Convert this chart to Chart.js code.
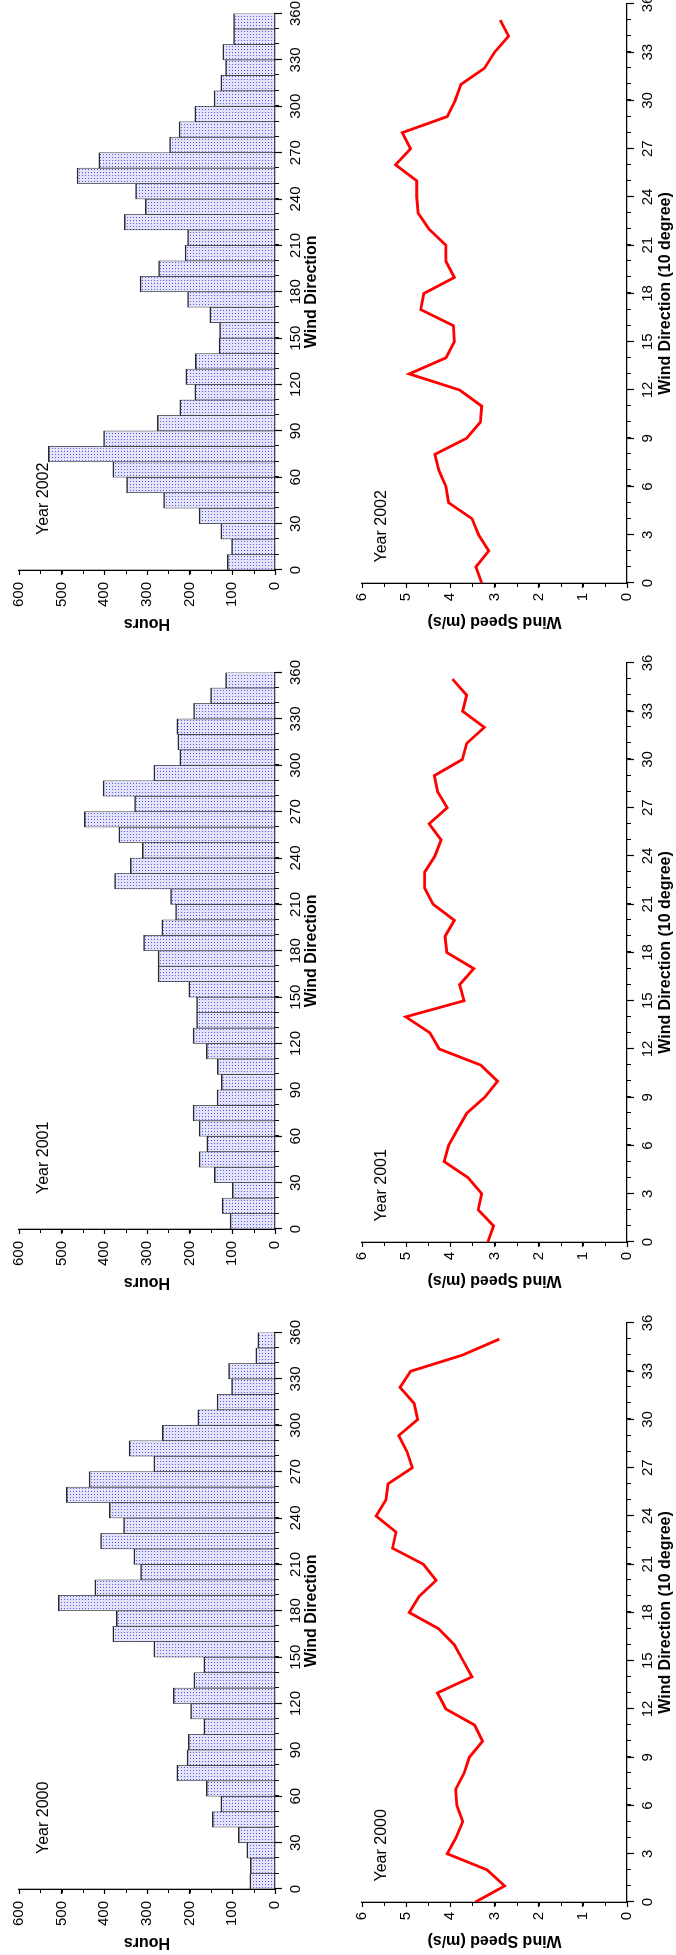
<!DOCTYPE html>
<html>
<head>
<meta charset="utf-8">
<script src="https://cdn.jsdelivr.net/npm/chart.js@4.4.1/dist/chart.umd.min.js"></script>
<style>
  html, body { margin: 0; padding: 0; background: #fff; overflow: hidden; }
  /* the figure is laid out landscape, then turned a quarter turn to the left */
  #fig { position: absolute; left: 0; top: 0; width: 1955px; height: 676px; overflow: hidden;
         background: #fff; transform-origin: 0 0; transform: translate(0, 1955px) rotate(-90deg); }
  #fig canvas { position: absolute; }
</style>
</head>
<body>
<div id="fig">
  <canvas id="h2000" width="640" height="330" style="left:0px;top:0px"></canvas>
  <canvas id="h2001" width="640" height="330" style="left:660px;top:0px"></canvas>
  <canvas id="h2002" width="640" height="330" style="left:1319px;top:0px"></canvas>
  <canvas id="s2000" width="650" height="336" style="left:0px;top:340px"></canvas>
  <canvas id="s2001" width="650" height="336" style="left:660px;top:340px"></canvas>
  <canvas id="s2002" width="650" height="336" style="left:1319px;top:340px"></canvas>
</div>
<script>
const years = ['2000', '2001', '2002'];

// wind direction bins (centre of each 10 degree sector)
const dirBins = [5, 15, 25, 35, 45, 55, 65, 75, 85, 95, 105, 115, 125, 135, 145, 155, 165, 175,
                 185, 195, 205, 215, 225, 235, 245, 255, 265, 275, 285, 295, 305, 315, 325, 335, 345, 355];

const hours2000 = [59, 58, 66, 86, 147, 127, 161, 230, 206, 203, 167, 198, 238, 190, 167, 284, 380, 372,
                   508, 422, 315, 331, 409, 355, 388, 489, 436, 284, 342, 264, 181, 136, 102, 109, 45, 40];
const hours2001 = [105, 124, 100, 142, 178, 160, 178, 192, 136, 126, 135, 161, 192, 184, 184, 202, 274, 274,
                   308, 265, 233, 245, 376, 339, 311, 366, 447, 329, 403, 284, 223, 228, 230, 191, 151, 116];
const hours2002 = [112, 102, 127, 178, 261, 348, 380, 531, 402, 276, 223, 188, 209, 187, 131, 130, 153, 205,
                   316, 273, 211, 205, 353, 304, 327, 464, 413, 247, 225, 188, 143, 127, 116, 122, 97, 97];

// wind direction in units of 10 degree
const sectors = [0, 1, 2, 3, 4, 5, 6, 7, 8, 9, 10, 11, 12, 13, 14, 15, 16, 17,
                 18, 19, 20, 21, 22, 23, 24, 25, 26, 27, 28, 29, 30, 31, 32, 33, 34, 35];

const speed2000 = [3.43, 2.77, 3.17, 4.07, 3.87, 3.72, 3.85, 3.88, 3.69, 3.57, 3.27, 3.45, 4.10, 4.29, 3.51, 3.71, 3.91, 4.27,
                   4.93, 4.71, 4.32, 4.61, 5.31, 5.23, 5.68, 5.46, 5.41, 4.86, 4.98, 5.17, 4.74, 4.82, 5.14, 4.90, 3.73, 2.89];
const speed2001 = [3.15, 3.02, 3.37, 3.29, 3.60, 4.14, 4.04, 3.84, 3.63, 3.22, 2.93, 3.31, 4.25, 4.46, 5.01, 3.69, 3.79, 3.47,
                   4.08, 4.12, 3.91, 4.39, 4.58, 4.58, 4.35, 4.21, 4.48, 4.07, 4.29, 4.36, 3.73, 3.63, 3.23, 3.72, 3.63, 3.95];
const speed2002 = [3.29, 3.42, 3.13, 3.36, 3.51, 4.04, 4.10, 4.26, 4.35, 3.63, 3.32, 3.29, 3.79, 4.93, 4.10, 3.91, 3.93, 4.67,
                   4.60, 3.91, 4.10, 4.10, 4.48, 4.73, 4.76, 4.76, 5.24, 4.90, 5.09, 4.07, 3.89, 3.76, 3.23, 3.00, 2.68, 2.87];

const hourTicks = [0, 100, 200, 300, 400, 500, 600];
const dirTicks = [0, 30, 60, 90, 120, 150, 180, 210, 240, 270, 300, 330, 360];
const speedTicks = [0, 1, 2, 3, 4, 5, 6];
const sectorTicks = [0, 3, 6, 9, 12, 15, 18, 21, 24, 27, 30, 33, 36];

const hoursByYear = [hours2000, hours2001, hours2002];
const speedByYear = [speed2000, speed2001, speed2002];

const FONT = '"Liberation Sans", Arial, Helvetica, sans-serif';
Chart.defaults.font.family = FONT;
Chart.defaults.font.size = 15;
Chart.defaults.color = '#000';

// dotted blue fill like the original hatch
function dotPattern() {
  const c = document.createElement('canvas');
  c.width = 3; c.height = 3;
  const g = c.getContext('2d');
  g.fillStyle = '#e3e3f9';
  g.fillRect(0, 0, 3, 3);
  g.fillStyle = '#5a5ae4';
  g.fillRect(1, 1, 1, 1);
  return g.createPattern(c, 'repeat');
}
const fill = dotPattern();

// short unlabelled ticks between the labelled ones
const minorTicks = {
  id: 'minorTicks',
  afterDraw(chart, args, o) {
    const {ctx} = chart;
    const xs = chart.scales.x, ys = chart.scales.y;
    ctx.save();
    ctx.strokeStyle = '#000';
    ctx.lineWidth = 1;
    for (let v = xs.min; v <= xs.max + 1e-6; v += o.x) {
      const p = Math.round(xs.getPixelForValue(v)) + 0.5;
      ctx.beginPath(); ctx.moveTo(p, xs.top); ctx.lineTo(p, xs.top + o.len); ctx.stroke();
    }
    for (let v = ys.min; v <= ys.max + 1e-6; v += o.y) {
      const p = Math.round(ys.getPixelForValue(v)) + 0.5;
      ctx.beginPath(); ctx.moveTo(ys.right, p); ctx.lineTo(ys.right - o.len, p); ctx.stroke();
    }
    ctx.restore();
  }
};

const yearLabel = {
  id: 'yearLabel',
  afterDraw(chart, args, o) {
    const {ctx, chartArea} = chart;
    ctx.save();
    ctx.font = '16px ' + FONT;
    ctx.fillStyle = '#000';
    ctx.textAlign = 'left';
    ctx.textBaseline = 'middle';
    ctx.fillText(o.text, chartArea.left + o.dx, chartArea.top + o.dy);
    ctx.restore();
  }
};

function axis(min, max, ticks, tickLen, pad, title, titlePad, size) {
  return {
    type: 'linear', min: min, max: max, offset: false,
    afterBuildTicks: s => { s.ticks = ticks.map(v => ({value: v})); },
    afterFit: s => { if (s.isHorizontal()) s.height = size; else s.width = size; },
    border: {display: true, color: '#000', width: 1.3},
    grid: {display: true, drawOnChartArea: false, drawTicks: true, tickLength: tickLen,
           tickColor: '#000', tickWidth: 1.2, offset: false},
    ticks: {padding: pad, autoSkip: false, maxRotation: 0, font: {size: 15}},
    title: {display: true, text: title, font: {size: 16, weight: 'bold'}, padding: titlePad}
  };
}

years.forEach((yr, i) => {
  new Chart(document.getElementById('h' + yr), {
    type: 'bar',
    data: {
      datasets: [{
        data: dirBins.map((d, k) => ({x: d, y: hoursByYear[i][k]})),
        backgroundColor: fill,
        borderColor: '#2a2a2a',
        borderWidth: {top: 1.5, left: 0.7, right: 0.7, bottom: 0},
        borderSkipped: 'start',
        barPercentage: 1.0,
        categoryPercentage: 1.0
      }]
    },
    options: {
      responsive: false, animation: false, events: [],
      layout: {padding: {top: 19, right: 16, bottom: 0, left: 0}},
      scales: {
        x: axis(0, 360, dirTicks, 7, 5, 'Wind Direction', {top: 0, bottom: 9}, 55),
        y: axis(0, 600, hourTicks, 5, 7, 'Hours', {top: 3, bottom: 0}, 66)
      },
      plugins: {
        legend: {display: false}, tooltip: {enabled: false},
        minorTicks: {x: 10, y: 50, len: 4},
        yearLabel: {text: 'Year ' + yr, dx: 35, dy: 24.5}
      }
    },
    plugins: [minorTicks, yearLabel]
  });

  new Chart(document.getElementById('s' + yr), {
    type: 'line',
    data: {
      datasets: [{
        data: sectors.map((s, k) => ({x: s, y: speedByYear[i][k]})),
        borderColor: '#ff0000',
        borderWidth: 2.8,
        pointRadius: 0,
        tension: 0,
        fill: false
      }]
    },
    options: {
      responsive: false, animation: false, events: [],
      layout: {padding: {top: 22, right: 18, bottom: 0, left: 0}},
      scales: {
        x: axis(0, 36, sectorTicks, 7, 4.5, 'Wind Direction (10 degree)', {top: 0, bottom: 1}, 49),
        y: axis(0, 6, speedTicks, 5, 5, 'Wind Speed (m/s)', {top: 5, bottom: 0}, 53)
      },
      plugins: {
        legend: {display: false}, tooltip: {enabled: false},
        minorTicks: {x: 1, y: 0.5, len: 4},
        yearLabel: {text: 'Year ' + yr, dx: 20.5, dy: 19.5}
      }
    },
    plugins: [minorTicks, yearLabel]
  });
});
</script>
</body>
</html>
